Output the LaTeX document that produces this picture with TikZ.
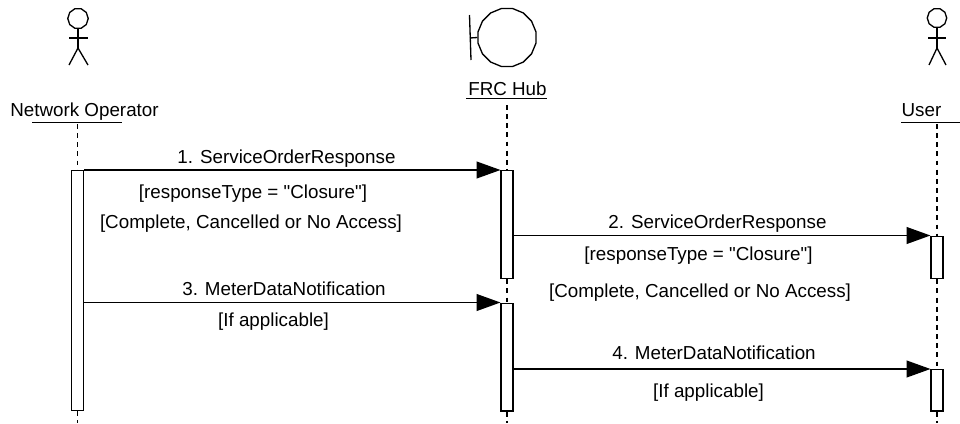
\documentclass[tikz,border=0pt]{standalone}
\usepackage{fontspec}
\setmainfont{Liberation Sans}[Ligatures=TeXOff]
\usetikzlibrary{arrows.meta}
\usetikzlibrary{shapes.geometric}
\usetikzlibrary{calc}

\tikzset{
    msg/.style={line width=0.75pt, -{Triangle[length=13.6pt, width=9.6pt]}, shorten >=0pt},
    life/.style={line width=0.75pt, dash pattern=on 2.8pt off 2.4pt},
    bar/.style={draw, fill=white, line width=0.75pt, inner sep=0pt, minimum width=0.235cm, anchor=north},
    head/.style={draw, line width=0.75pt, regular polygon, regular polygon sides=10, inner sep=0pt},
    lbl/.style={anchor=base, inner sep=0pt, font=\fontsize{10.7}{12}\selectfont},
}

\begin{document}
\begin{tikzpicture}[x=0.02cm, y=-0.02cm, line width=0.75pt]
    \useasboundingbox (0,0) rectangle (960,423);

    % Network Operator actor
    \node[head, minimum size=0.41cm] (nohead) at (78,18.5) {};
    \coordinate (nohip) at (78,48);
    \draw (nohead.south) -- (nohip);
    \draw (69,38) -- (88,38);
    \draw (69,65) -- (nohip) -- (88,65);
    \node[lbl] (noname) at (84.5,116) {Network Operator};
    \draw (32,122.5) -- (122,122.5);

    % FRC Hub boundary
    \node[head, regular polygon sides=16, minimum size=1.18cm] (hubhead) at (507,37.5) {};
    \coordinate (hubstem) at (470,38);
    \draw (hubhead.west) -- (hubstem);
    \draw (469.5,15) -- (471,60);
    \node[lbl] (hubname) at (507.5,95) {FRC Hub};
    \draw (466,98.5) -- (547,98.5);

    % User actor
    \node[head, minimum size=0.39cm] (userhead) at (937,18) {};
    \coordinate (userhip) at (937,48);
    \draw (userhead.south) -- (userhip);
    \draw (928,38) -- (946,38);
    \draw (929,65) -- (userhip) -- (946,65);
    \node[lbl] (username) at (921.5,116.5) {User};
    \draw (901,122.5) -- (960,122.5);

    % Activation bars
    \node[bar, minimum height=4.8cm] (nobar) at (77.5,170) {};
    \node[bar, minimum height=2.16cm] (hubbara) at (507,170) {};
    \node[bar, minimum height=2.16cm] (hubbarb) at (507,302.5) {};
    \node[bar, minimum height=0.85cm] (userbara) at (937,235.5) {};
    \node[bar, minimum height=0.83cm] (userbarb) at (937,369) {};

    % Lifelines
    \coordinate (nolife) at (77.5,124);
    \coordinate (noend) at (77.5,423);
    \coordinate (hublife) at (507,105);
    \coordinate (hubend) at (507,423);
    \coordinate (userlife) at (937,124);
    \coordinate (userend) at (937,423);
    \draw[life] (nolife) -- (nobar.north);
    \draw[life] (nobar.south) -- (noend);
    \draw[life] (hublife) -- (hubbara.north);
    \draw[life] (hubbara.south) -- (hubbarb.north);
    \draw[life] (hubbarb.south) -- (hubend);
    \draw[life] (userlife) -- (userbara.north);
    \draw[life] (userbara.south) -- (userbarb.north);
    \draw[life] (userbarb.south) -- (userend);

    % Messages
    \draw[msg] (nobar.north east) -- (hubbara.north west);
    \draw[msg] (hubbara.east |- userbara.north) -- (userbara.north west);
    \draw[msg] (nobar.east |- hubbarb.north) -- (hubbarb.north west);
    \draw[msg] (hubbarb.east |- userbarb.north) -- (userbarb.north west);

    % Message labels
    \node[lbl] (msga) at (286.5,163) {1. ServiceOrderResponse};
    \node[lbl] (msgaa) at (253,198) {[responseType = "Closure"]};
    \node[lbl] (msgab) at (251,228.5) {[Complete, Cancelled or No Access]};
    \node[lbl] (msgb) at (717.5,228) {2. ServiceOrderResponse};
    \node[lbl] (msgba) at (698.5,260) {[responseType = "Closure"]};
    \node[lbl] (msgbb) at (700,297) {[Complete, Cancelled or No Access]};
    \node[lbl] (msgc) at (284,295) {3. MeterDataNotification};
    \node[lbl] (msgca) at (273.5,326) {[If applicable]};
    \node[lbl] (msgd) at (714,359) {4. MeterDataNotification};
    \node[lbl] (msgda) at (708.5,397) {[If applicable]};
\end{tikzpicture}
\end{document}
